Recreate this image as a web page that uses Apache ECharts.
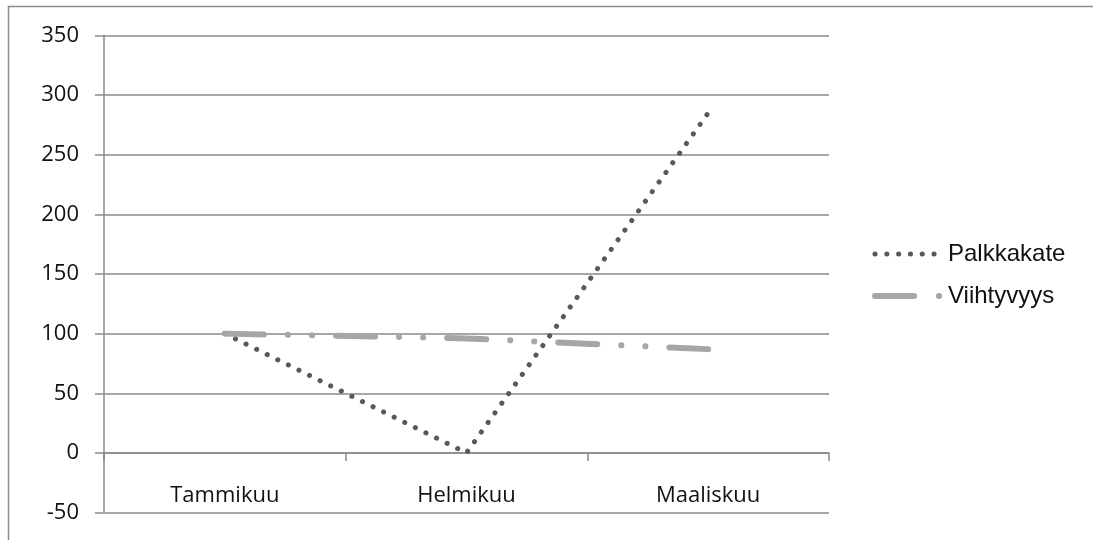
<!DOCTYPE html>
<html>
<head>
<meta charset="utf-8">
<script src="https://cdn.jsdelivr.net/npm/echarts@6/dist/echarts.min.js"></script>
<style>
  html, body { margin: 0; padding: 0; background: #fff; }
  #chart { width: 1093px; height: 540px; }
</style>
</head>
<body>
<div id="chart"></div>
<script>
// Monthly index values
const months = ['Tammikuu', 'Helmikuu', 'Maaliskuu'];
const palkkakate = [100, 0, 285];
const viihtyvyys = [100, 96, 87];
const seriesNames = ['Palkkakate', 'Viihtyvyys'];

const axisGray = '#8a8a8a';
const labelFont = 'Open Sans';

const dotStyle = { color: '#595959', width: 5, type: [0.1, 11.7], cap: 'round', join: 'round' };
const dashDotStyle = { color: '#a6a6a6', width: 6, type: [39, 24, 0.1, 24, 0.1, 24], cap: 'round', join: 'round' };

const chart = echarts.init(document.getElementById('chart'), null, { renderer: 'canvas' });

chart.setOption({
  animation: false,
  backgroundColor: '#fff',
  graphic: [{
    type: 'rect',
    shape: { x: 8.5, y: 6.5, width: 1200, height: 700 },
    style: { fill: 'none', stroke: '#8c8c8c', lineWidth: 1.5 },
    silent: true,
    z: -1
  }],
  grid: { left: 104, right: 264, top: 35.5, bottom: 27.5, containLabel: false, outerBoundsMode: 'none' },
  legend: {
    orient: 'vertical',
    left: 872,
    top: 242,
    padding: 0,
    itemWidth: 66,
    itemHeight: 24,
    itemGap: 18,
    itemStyle: { opacity: 0 },
    textStyle: {
      fontFamily: 'Liberation Sans',
      fontSize: 24,
      color: '#111',
      lineHeight: 24,
      padding: [0, 0, 0, 2]
    },
    data: [
      { name: seriesNames[0], lineStyle: { width: dotStyle.width, type: dotStyle.type, cap: 'round', color: dotStyle.color } },
      { name: seriesNames[1], lineStyle: { width: dashDotStyle.width, type: [39, 25, 0.1, 40], cap: 'round', color: dashDotStyle.color } }
    ]
  },
  xAxis: {
    type: 'category',
    data: months,
    boundaryGap: true,
    axisLine: { onZero: true, lineStyle: { color: axisGray, width: 1.5 } },
    axisTick: { show: true, length: 8, inside: false, lineStyle: { color: axisGray, width: 1.5 } },
    axisLabel: { margin: -28, fontFamily: labelFont, fontSize: 22, color: '#111' },
    splitLine: { show: false }
  },
  yAxis: {
    type: 'value',
    min: -50,
    max: 350,
    interval: 50,
    axisLine: { show: true, lineStyle: { color: axisGray, width: 1.5 } },
    axisTick: { show: true, length: 9, inside: false, lineStyle: { color: axisGray, width: 1.5 } },
    axisLabel: { margin: 25, fontFamily: labelFont, fontSize: 22, color: '#111' },
    splitLine: { show: true, lineStyle: { color: axisGray, width: 1.5 } }
  },
  series: [
    {
      name: seriesNames[0],
      type: 'line',
      data: palkkakate,
      symbol: 'none',
      z: 2,
      lineStyle: dotStyle,
      itemStyle: { color: dotStyle.color }
    },
    {
      name: seriesNames[1],
      type: 'line',
      data: viihtyvyys,
      symbol: 'none',
      z: 3,
      lineStyle: dashDotStyle,
      itemStyle: { color: dashDotStyle.color }
    }
  ]
});
</script>
</body>
</html>
